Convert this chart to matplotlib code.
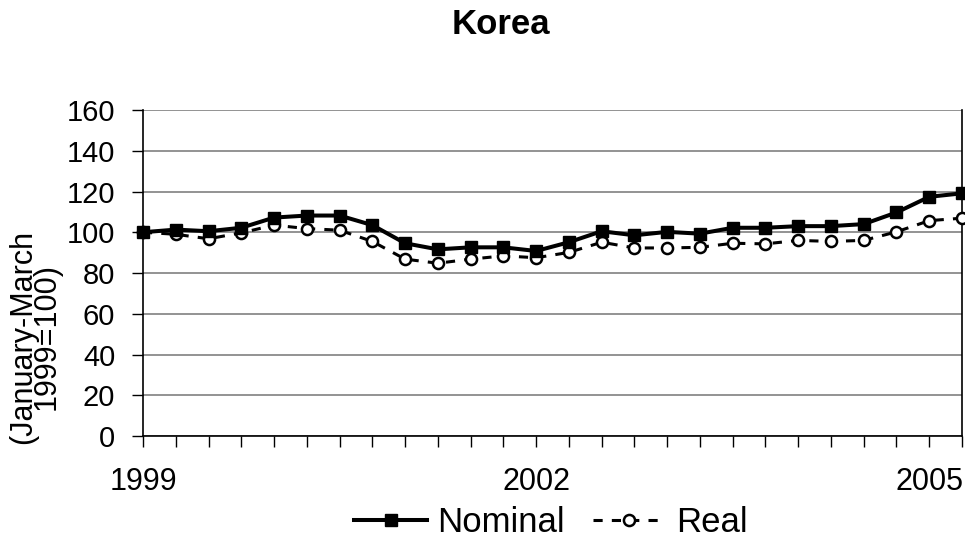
import numpy as np
import matplotlib
matplotlib.use("Agg")
import matplotlib.pyplot as plt

plt.rcParams['font.family'] = ['Liberation Sans', 'DejaVu Sans']

# quarterly index, 1999 Q1 .. 2005 Q2 (January-March 1999 = 100)
quarters = np.arange(26)
year_ticks = [0, 12, 24]
year_labels = ['1999', '2002', '2005']

nominal = [100.0, 101.3, 100.5, 102.2, 107.2, 108.2, 108.2, 103.5, 94.6, 91.6,
           92.6, 92.6, 90.8, 95.1, 100.5, 98.5, 100.2, 99.3, 102.2, 102.2,
           103.0, 103.0, 104.0, 109.7, 117.4, 119.1]
real = [100.0, 99.0, 96.8, 99.7, 103.5, 101.8, 101.0, 95.5, 86.8, 84.8,
        86.8, 88.4, 87.5, 90.1, 95.1, 92.3, 92.3, 92.6, 94.6, 94.3,
        96.0, 95.5, 96.0, 100.2, 105.7, 106.9]

fig = plt.figure(figsize=(9.65, 5.38), dpi=100)
ax = fig.add_axes([143/965, 102/538, 819/965, 326/538])

ax.plot(quarters, nominal, color='black', lw=2.9, marker='s', ms=9,
        clip_on=False, zorder=4, label='Nominal')
ax.plot(quarters, real, color='black', lw=2.2, dashes=(3, 3), marker='o',
        ms=8, mfc='white', mec='black', mew=1.8, clip_on=False, zorder=3,
        label='Real')

ax.set_xlim(0, 25)
ax.set_ylim(0, 160)
ax.set_yticks(np.arange(0, 161, 20))
ax.set_xticks(quarters, minor=True)
ax.set_xticks(year_ticks)
ax.set_xticklabels(year_labels)
ax.tick_params(axis='both', which='both', direction='out', length=8,
               width=1, colors='black', labelsize=21)
ax.tick_params(axis='x', which='major', pad=14, labelsize=22)
ax.tick_params(axis='y', pad=12)

ax.grid(axis='y', color='#808080', lw=1.2)
ax.set_axisbelow(True)
ax.spines['top'].set_visible(False)
for side in ['left', 'bottom', 'right']:
    ax.spines[side].set_color('black')
    ax.spines[side].set_linewidth(1.2)

fig.text(501/965, 1 - 25/538, 'Korea', ha='center', va='center',
         fontsize=25, fontweight='bold')
fig.text(35/965, 1 - 337/538, '(January-March\n1999=100)', rotation=90,
         ha='center', va='center', multialignment='center', fontsize=22,
         linespacing=0.7)

fig.legend(loc='center', bbox_to_anchor=(551/965, 1 - 523/538), ncol=2,
           frameon=False, fontsize=25, handlelength=2.1, handletextpad=0.3,
           columnspacing=0.8, borderpad=0)

fig.savefig('out.png', dpi=100)
